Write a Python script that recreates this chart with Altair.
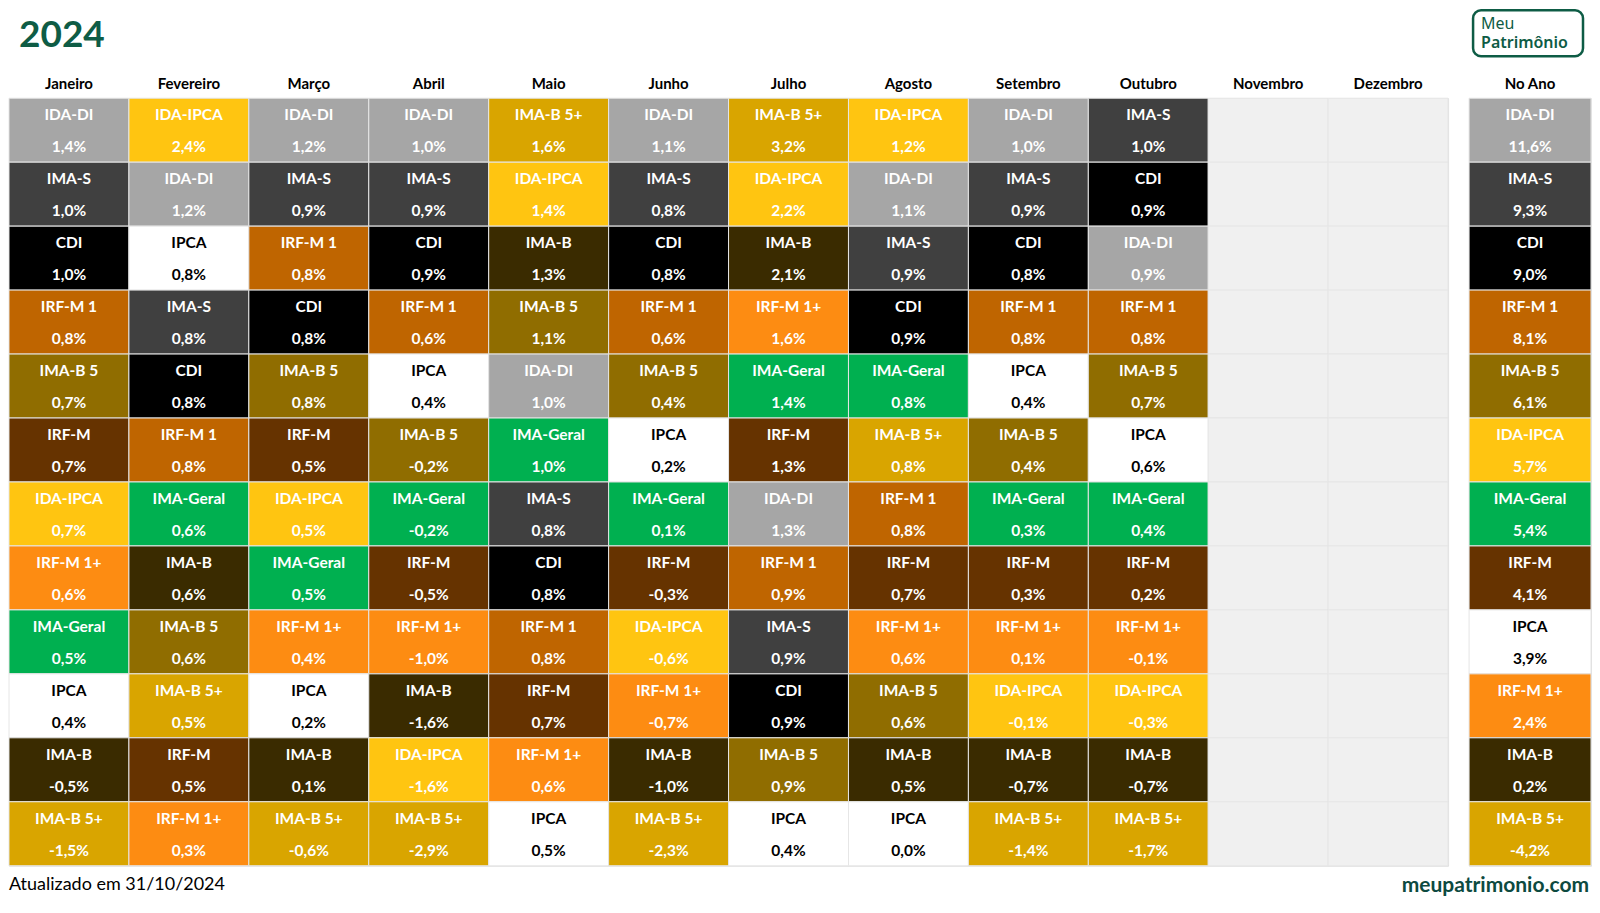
import altair as alt
import pandas as pd

title_text = "2024"
footer_left = "Atualizado em 31/10/2024"
footer_right = "meupatrimonio.com"
logo_line1 = "Meu"
logo_line2 = "Patrimônio"

months = ["Janeiro", "Fevereiro", "Março", "Abril", "Maio", "Junho", "Julho",
          "Agosto", "Setembro", "Outubro", "Novembro", "Dezembro"]
year_col = "No Ano"

jan_names = ["IDA-DI", "IMA-S", "CDI", "IRF-M 1", "IMA-B 5", "IRF-M", "IDA-IPCA", "IRF-M 1+", "IMA-Geral", "IPCA", "IMA-B", "IMA-B 5+"]
jan_values = [1.4, 1.0, 1.0, 0.8, 0.7, 0.7, 0.7, 0.6, 0.5, 0.4, -0.5, -1.5]
fev_names = ["IDA-IPCA", "IDA-DI", "IPCA", "IMA-S", "CDI", "IRF-M 1", "IMA-Geral", "IMA-B", "IMA-B 5", "IMA-B 5+", "IRF-M", "IRF-M 1+"]
fev_values = [2.4, 1.2, 0.8, 0.8, 0.8, 0.8, 0.6, 0.6, 0.6, 0.5, 0.5, 0.3]
mar_names = ["IDA-DI", "IMA-S", "IRF-M 1", "CDI", "IMA-B 5", "IRF-M", "IDA-IPCA", "IMA-Geral", "IRF-M 1+", "IPCA", "IMA-B", "IMA-B 5+"]
mar_values = [1.2, 0.9, 0.8, 0.8, 0.8, 0.5, 0.5, 0.5, 0.4, 0.2, 0.1, -0.6]
abr_names = ["IDA-DI", "IMA-S", "CDI", "IRF-M 1", "IPCA", "IMA-B 5", "IMA-Geral", "IRF-M", "IRF-M 1+", "IMA-B", "IDA-IPCA", "IMA-B 5+"]
abr_values = [1.0, 0.9, 0.9, 0.6, 0.4, -0.2, -0.2, -0.5, -1.0, -1.6, -1.6, -2.9]
mai_names = ["IMA-B 5+", "IDA-IPCA", "IMA-B", "IMA-B 5", "IDA-DI", "IMA-Geral", "IMA-S", "CDI", "IRF-M 1", "IRF-M", "IRF-M 1+", "IPCA"]
mai_values = [1.6, 1.4, 1.3, 1.1, 1.0, 1.0, 0.8, 0.8, 0.8, 0.7, 0.6, 0.5]
jun_names = ["IDA-DI", "IMA-S", "CDI", "IRF-M 1", "IMA-B 5", "IPCA", "IMA-Geral", "IRF-M", "IDA-IPCA", "IRF-M 1+", "IMA-B", "IMA-B 5+"]
jun_values = [1.1, 0.8, 0.8, 0.6, 0.4, 0.2, 0.1, -0.3, -0.6, -0.7, -1.0, -2.3]
jul_names = ["IMA-B 5+", "IDA-IPCA", "IMA-B", "IRF-M 1+", "IMA-Geral", "IRF-M", "IDA-DI", "IRF-M 1", "IMA-S", "CDI", "IMA-B 5", "IPCA"]
jul_values = [3.2, 2.2, 2.1, 1.6, 1.4, 1.3, 1.3, 0.9, 0.9, 0.9, 0.9, 0.4]
ago_names = ["IDA-IPCA", "IDA-DI", "IMA-S", "CDI", "IMA-Geral", "IMA-B 5+", "IRF-M 1", "IRF-M", "IRF-M 1+", "IMA-B 5", "IMA-B", "IPCA"]
ago_values = [1.2, 1.1, 0.9, 0.9, 0.8, 0.8, 0.8, 0.7, 0.6, 0.6, 0.5, 0.0]
set_names = ["IDA-DI", "IMA-S", "CDI", "IRF-M 1", "IPCA", "IMA-B 5", "IMA-Geral", "IRF-M", "IRF-M 1+", "IDA-IPCA", "IMA-B", "IMA-B 5+"]
set_values = [1.0, 0.9, 0.8, 0.8, 0.4, 0.4, 0.3, 0.3, 0.1, -0.1, -0.7, -1.4]
out_names = ["IMA-S", "CDI", "IDA-DI", "IRF-M 1", "IMA-B 5", "IPCA", "IMA-Geral", "IRF-M", "IRF-M 1+", "IDA-IPCA", "IMA-B", "IMA-B 5+"]
out_values = [1.0, 0.9, 0.9, 0.8, 0.7, 0.6, 0.4, 0.2, -0.1, -0.3, -0.7, -1.7]
ano_names = ["IDA-DI", "IMA-S", "CDI", "IRF-M 1", "IMA-B 5", "IDA-IPCA", "IMA-Geral", "IRF-M", "IPCA", "IRF-M 1+", "IMA-B", "IMA-B 5+"]
ano_values = [11.6, 9.3, 9.0, 8.1, 6.1, 5.7, 5.4, 4.1, 3.9, 2.4, 0.2, -4.2]

index_names = ["IDA-DI", "IDA-IPCA", "IMA-S", "CDI", "IPCA", "IRF-M 1", "IMA-B 5",
               "IRF-M", "IMA-Geral", "IRF-M 1+", "IMA-B", "IMA-B 5+"]
index_colors = ["#a6a6a6", "#ffc511", "#404040", "#000000", "#ffffff", "#bf6500", "#906d00",
                "#663300", "#00b050", "#fd8c12", "#3a2b00", "#d9a500"]
empty_color = "#f0f0f0"

monthly = [jan_names, fev_names, mar_names, abr_names, mai_names, jun_names,
           jul_names, ago_names, set_names, out_names]
monthly_vals = [jan_values, fev_values, mar_values, abr_values, mai_values, jun_values,
                jul_values, ago_values, set_values, out_values]


def fmt(v):
    return f"{v:.1f}".replace(".", ",") + "%"


rows = []
for m_i, month in enumerate(months):
    for r in range(12):
        if m_i < len(monthly):
            rows.append({"col": month, "rank": r + 1, "name": monthly[m_i][r],
                         "label": fmt(monthly_vals[m_i][r])})
        else:
            rows.append({"col": month, "rank": r + 1, "name": "", "label": ""})
df_months = pd.DataFrame(rows)
df_year = pd.DataFrame({"col": [year_col] * 12, "rank": list(range(1, 13)),
                        "name": ano_names, "label": [fmt(v) for v in ano_values]})

ROW_H = 64
N_ROWS = 12
H = ROW_H * N_ROWS
COL_W = 120
LEFT_W = COL_W * 12
RIGHT_W = 122
FONT = "Lato"
GREEN = "#0e5c45"

color_scale = alt.Scale(domain=index_names + [""], range=index_colors + [empty_color])
text_color = alt.condition(alt.datum.name == "IPCA", alt.value("#000000"), alt.value("#ffffff"))


def grid(df, domain, width):
    base = alt.Chart(df).encode(
        x=alt.X("col:N", sort=domain,
                scale=alt.Scale(domain=domain, paddingInner=0, paddingOuter=0),
                axis=alt.Axis(orient="top", title=None, labelAngle=0, ticks=False, domain=False,
                              labelFont=FONT, labelFontWeight="bold", labelFontSize=15,
                              labelColor="#000000", labelPadding=7)),
        y=alt.Y("rank:O", scale=alt.Scale(domain=list(range(1, 13)), paddingInner=0, paddingOuter=0),
                axis=None),
    )
    rect = base.mark_rect(stroke="#e6e6e6", strokeWidth=1).encode(
        color=alt.Color("name:N", scale=color_scale, legend=None))
    name_t = base.mark_text(dy=-15, font=FONT, fontWeight="bold", fontSize=15.5, baseline="middle").encode(
        text="name:N", color=text_color)
    val_t = base.mark_text(dy=17, font=FONT, fontWeight="bold", fontSize=15.5, baseline="middle").encode(
        text="label:N", color=text_color)
    return [rect, name_t, val_t]


one = pd.DataFrame({"t": [title_text], "f": [footer_left], "r": [footer_right],
                    "l1": [logo_line1], "l2": [logo_line2]})

title_layer = alt.Chart(one).mark_text(align="left", baseline="middle", font=FONT, fontWeight="bold",
                                       fontSize=37, color=GREEN).encode(
    text="t:N", x=alt.value(10), y=alt.value(-62))
footer_l = alt.Chart(one).mark_text(align="left", baseline="middle", font=FONT, fontSize=18,
                                    color="#000000").encode(
    text="f:N", x=alt.value(0), y=alt.value(H + 19))

left = alt.layer(*grid(df_months, months, LEFT_W), title_layer, footer_l).properties(
    width=LEFT_W, height=H)

logo_box = alt.Chart(one).mark_rect(filled=False, stroke=GREEN, strokeWidth=2.5, cornerRadius=8).encode(
    x=alt.value(4), x2=alt.value(114), y=alt.value(-88), y2=alt.value(-42))
logo_t1 = alt.Chart(one).mark_text(align="left", baseline="middle", font="Noto Sans", fontSize=16,
                                   color=GREEN).encode(text="l1:N", x=alt.value(12), y=alt.value(-74))
logo_t2 = alt.Chart(one).mark_text(align="left", baseline="middle", font="Noto Sans", fontSize=16,
                                   fontWeight=600, color=GREEN).encode(
    text="l2:N", x=alt.value(12), y=alt.value(-55))
footer_r = alt.Chart(one).mark_text(align="right", baseline="middle", font=FONT, fontWeight="bold",
                                    fontSize=21, color="#0d4a40").encode(
    text="r:N", x=alt.value(RIGHT_W - 2), y=alt.value(H + 20))

right = alt.layer(*grid(df_year, [year_col], RIGHT_W), logo_box, logo_t1, logo_t2, footer_r).properties(
    width=RIGHT_W, height=H)

chart = alt.hconcat(left, right, spacing=21, bounds="flush").properties(
    padding={"left": 0, "top": 0, "right": 0, "bottom": 0}
).configure_view(stroke=None).configure(background="#ffffff")

chart.save("out.html", embed_options={"renderer": "svg", "actions": False})
